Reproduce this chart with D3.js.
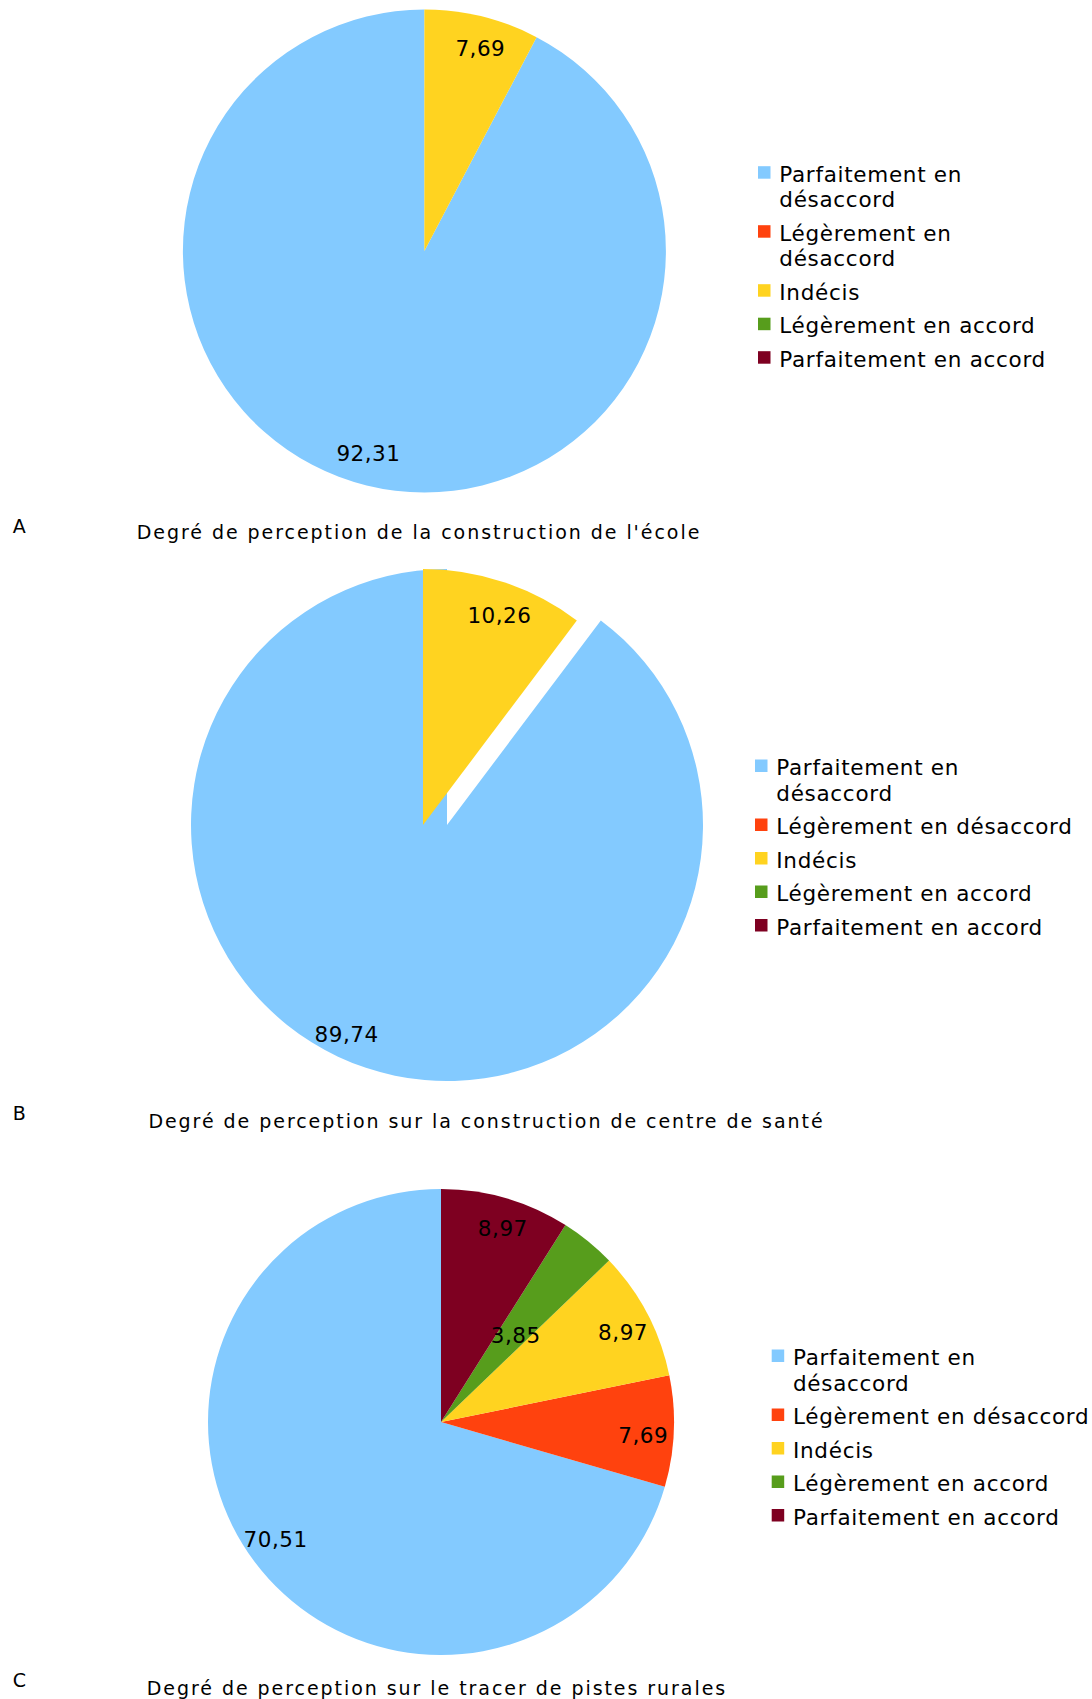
<!DOCTYPE html>
<html lang="fr">
<head>
    <meta charset="UTF-8">
    <title>Degré de perception</title>
    <script src="https://cdn.jsdelivr.net/npm/d3@7"></script>
    <style>
        body { margin: 0; background: #fff; }
        svg text { font-family: "DejaVu Sans", Verdana, sans-serif; fill: #000; }
        .label { font-size: 21.5px; letter-spacing: 0.5px; }
        .legend text { font-size: 21.5px; letter-spacing: 0.7px; }
        .letter { font-size: 19px; }
        .title { font-size: 19px; letter-spacing: 1.95px; }
    </style>
</head>
<body>
    <div id="chart"></div>

    <script>
        // categories and colours (LibreOffice default palette)
        const categories = ["Parfaitement en désaccord", "Légèrement en désaccord", "Indécis", "Légèrement en accord", "Parfaitement en accord"];
        const palette = ["#83caff", "#ff420e", "#ffd320", "#579d1c", "#7e0021"];

        // percentages per chart, same order as categories
        const ecoleValues = [92.31, 0, 7.69, 0, 0];
        const santeValues = [89.74, 0, 10.26, 0, 0];
        const pistesValues = [70.51, 7.69, 8.97, 3.85, 8.97];

        const panelLetters = ["A", "B", "C"];
        const panelTitles = [
            "Degré de perception de la construction de l'école",
            "Degré de perception sur la construction de centre de santé",
            "Degré de perception sur le tracer de pistes rurales"
        ];

        const width = 1092, height = 1699;
        const svg = d3.select("#chart").append("svg")
            .attr("width", width)
            .attr("height", height);

        const color = d3.scaleOrdinal().domain(categories).range(palette);
        const fmt = d3.formatLocale({ decimal: ",", thousands: " ", grouping: [3], currency: ["", ""] }).format(".2f");

        // where each panel sits on the page
        const panels = [
            { values: ecoleValues, cx: 424.4, cy: 251, r: 241.5, legendX: 758, legendY: 181.7, wrap: 280, letterY: 533, titleX: 136.7, titleY: 539 },
            { values: santeValues, cx: 423, cy: 825, r: 256, shift: { "Parfaitement en désaccord": 24 }, legendX: 755, legendY: 775, wrap: 305, letterY: 1120, titleX: 148.4, titleY: 1127.5 },
            { values: pistesValues, cx: 441, cy: 1422, r: 233, legendX: 771.7, legendY: 1365, wrap: 305, letterY: 1687, titleX: 146.7, titleY: 1695 }
        ];

        const pie = d3.pie().sort(null).value(d => d.value);

        const drawPanel = (p, idx) => {
            // slices start at 12 o'clock with the last category first
            const rows = categories.map((c, i) => ({ cat: c, value: p.values[i] })).reverse();
            const arcs = pie(rows).filter(d => d.data.value > 0);
            const arc = d3.arc().innerRadius(0).outerRadius(p.r);

            const g = svg.append("g").attr("transform", `translate(${p.cx},${p.cy})`);

            // paint in category order so the small slices sit on top
            g.selectAll("path")
                .data(arcs.slice().reverse())
                .enter()
                .append("path")
                .attr("d", arc)
                .attr("fill", d => color(d.data.cat))
                .attr("transform", d => `translate(${(p.shift && p.shift[d.data.cat]) || 0},0)`);

            g.selectAll("text.label")
                .data(arcs)
                .enter()
                .append("text")
                .attr("class", "label")
                .attr("text-anchor", "middle")
                .attr("dy", "0.35em")
                .attr("transform", d => {
                    const a = (d.startAngle + d.endAngle) / 2 + 0.028;
                    const k = d.data.value < 5 ? 0.49 : 0.87;
                    return `translate(${Math.sin(a) * p.r * k},${-Math.cos(a) * p.r * k})`;
                })
                .text(d => fmt(d.data.value));

            // legend
            const legend = svg.append("g").attr("class", "legend");
            let y = p.legendY;
            categories.forEach(cat => {
                legend.append("rect")
                    .attr("x", p.legendX)
                    .attr("y", y - 15.5)
                    .attr("width", 12.5)
                    .attr("height", 12.5)
                    .attr("fill", color(cat));

                const t = legend.append("text").attr("x", p.legendX + 21.3).attr("y", y);
                const words = cat.split(" ");
                let line = [];
                let tspan = t.append("tspan").attr("x", p.legendX + 21.3).attr("y", y);
                let lines = 1;
                words.forEach(w => {
                    line.push(w);
                    tspan.text(line.join(" "));
                    if (tspan.node().getComputedTextLength() > p.wrap && line.length > 1) {
                        line.pop();
                        tspan.text(line.join(" "));
                        line = [w];
                        tspan = t.append("tspan")
                            .attr("x", p.legendX + 21.3)
                            .attr("y", y + lines * 25.5)
                            .text(w);
                        lines++;
                    }
                });
                y += (lines - 1) * 25.5 + 33.5;
            });

            svg.append("text")
                .attr("class", "letter")
                .attr("x", 12.7)
                .attr("y", p.letterY)
                .text(panelLetters[idx]);

            svg.append("text")
                .attr("class", "title")
                .attr("x", p.titleX)
                .attr("y", p.titleY)
                .text(panelTitles[idx]);
        };

        panels.forEach(drawPanel);
    </script>
</body>
</html>
